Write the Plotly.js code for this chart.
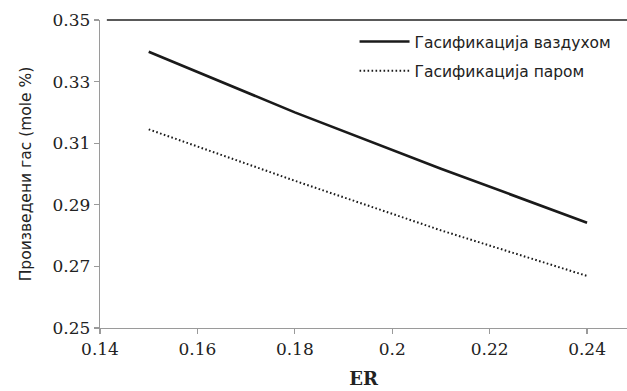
<!DOCTYPE html>
<html>
<head>
<meta charset="utf-8">
<script src="https://cdn.plot.ly/plotly-3.0.1.min.js"></script>
<style>html,body{margin:0;padding:0;background:#fff;}#chart{width:627px;height:391px;}</style>
</head>
<body>
<div id="chart"></div>
<script>
const erValues = [0.15, 0.18, 0.21, 0.24];
const airGas = [0.3397, 0.3200, 0.3017, 0.2842];
const steamGas = [0.3145, 0.2978, 0.2817, 0.2669];
const seriesNames = ['Гасификација ваздухом', 'Гасификација паром'];
const xTitle = 'ER';
const yTitle = 'Произведени гас (mole %)';

const xRange = [0.14, 0.2482];
const yRange = [0.25, 0.35];

const SERIF = "DejaVu Serif";
const SANS = "DejaVu Sans";

const traces = [
  {x: erValues, y: airGas, name: seriesNames[0], type: 'scatter', mode: 'lines',
   legendgroup: 'a', line: {color: '#1a1a1a', width: 2.6}},
  {x: erValues, y: steamGas, name: seriesNames[1], type: 'scatter', mode: 'lines',
   legendgroup: 'b', line: {color: '#1a1a1a', width: 2, dash: '1.6px,2.4px'}}
];

const layout = {
  width: 627, height: 391,
  font: {family: SANS, size: 15, color: '#222'},
  margin: {l: 100, r: 0, t: 20, b: 63, pad: 0},
  paper_bgcolor: '#fff', plot_bgcolor: '#fff',
  showlegend: true,
  legend: {x: 0.483, xanchor: 'left', y: 0.984, yanchor: 'top', bgcolor: 'rgba(0,0,0,0)',
    font: {family: SANS, size: 15.5, color: '#222'},
    tracegroupgap: 6, itemwidth: 50},
  xaxis: {range: xRange, tick0: 0.14, dtick: 0.02, showgrid: false, zeroline: false,
    showline: true, linecolor: '#9a9a9a', linewidth: 1.2, ticks: 'outside', ticklen: 5,
    tickcolor: '#9a9a9a', tickwidth: 1.2,
    tickfont: {family: SERIF, size: 17, color: '#222'},
    title: {text: '<b>' + xTitle + '</b>', standoff: 14,
      font: {family: SERIF, size: 18, color: '#222'}}},
  yaxis: {range: yRange, tick0: 0.25, dtick: 0.02, showgrid: false, zeroline: false,
    showline: true, linecolor: '#9a9a9a', linewidth: 1.2, ticks: 'outside', ticklen: 5,
    tickcolor: '#9a9a9a', tickwidth: 1.2, tickformat: '.2f',
    tickfont: {family: SERIF, size: 17, color: '#222'},
    title: {text: yTitle, standoff: 17,
      font: {family: SANS, size: 15.5, color: '#222'}}},
  xaxis2: {overlaying: 'x', anchor: 'y', side: 'bottom', range: xRange, tick0: 0.14, dtick: 0.02,
    showgrid: false, zeroline: false, showline: false, ticks: 'inside', ticklen: 5,
    tickcolor: '#9a9a9a', tickwidth: 1.2, showticklabels: false},
  yaxis2: {overlaying: 'y', anchor: 'x', side: 'left', range: yRange, tick0: 0.25, dtick: 0.02,
    showgrid: false, zeroline: false, showline: false, ticks: 'inside', ticklen: 6,
    tickcolor: '#9a9a9a', tickwidth: 1.2, showticklabels: false},
  shapes: [{type: 'line', xref: 'paper', yref: 'paper', x0: 0.013, x1: 1, y0: 1, y1: 1,
    line: {color: '#222', width: 1.5}}]
};

Plotly.newPlot('chart', traces, layout, {displayModeBar: false, staticPlot: true});
</script>
</body>
</html>
